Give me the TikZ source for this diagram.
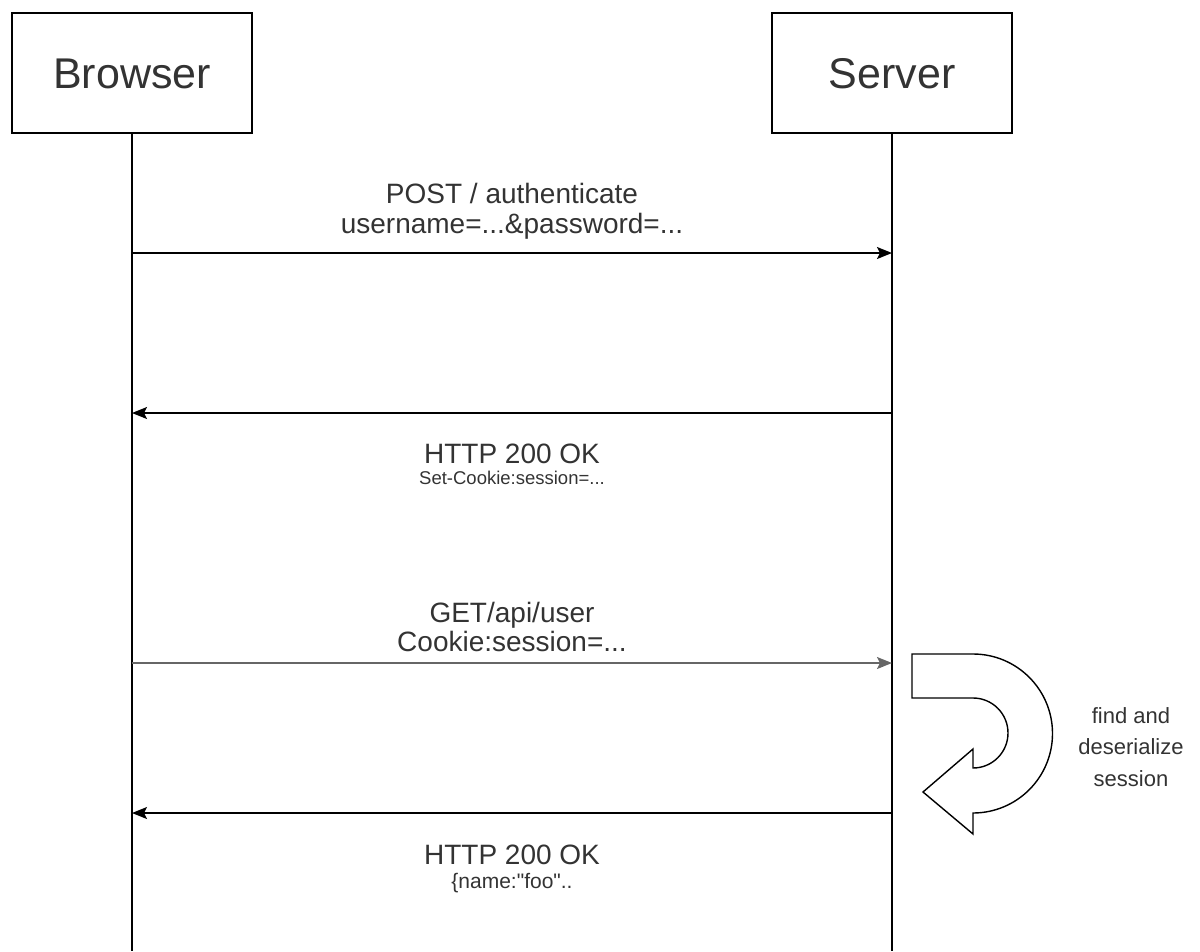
\documentclass[tikz,border=0pt]{standalone}
\usepackage{fontspec}
\setmainfont{Liberation Sans}[Ligatures=TeXOff]
\usetikzlibrary{arrows.meta}
\definecolor{txt}{HTML}{333333}
\definecolor{msggray}{HTML}{666666}
\begin{document}
\begin{tikzpicture}[x=1pt,y=-1pt,
  actor/.style={draw, line width=1.6pt, minimum width=240pt, minimum height=120pt, inner sep=0pt},
  actorname/.style={anchor=base, text=txt, font=\fontsize{43}{50}\selectfont, inner sep=0pt},
  life/.style={line width=1.6pt},
  msg/.style={line width=1.6pt, -{Stealth[length=15pt,width=12pt,inset=3pt]}},
  lbl/.style={anchor=base, text=txt, font=\fontsize{28}{32}\selectfont, inner sep=0pt},
  sublbl/.style={anchor=base, text=txt, font=\fontsize{18.5}{22}\selectfont, inner sep=0pt},
  note/.style={anchor=base, text=txt, font=\fontsize{22}{26}\selectfont, inner sep=0pt}
]
\useasboundingbox (0,0) rectangle (1200,951);

% participants
\node[actor] (browser) at (132,73) {};
\node[actor] (server)  at (892,73) {};
\node[actorname] (browsername) at (132,88) {Browser};
\node[actorname] (servername)  at (892,88) {Server};

% lifelines
\coordinate (bend) at (132,951);
\coordinate (send) at (892,951);
\draw[life] (browser.south) -- (bend);
\draw[life] (server.south) -- (send);

% message anchor points on the lifelines
\coordinate (b1) at (132,253); \coordinate (s1) at (892,253);
\coordinate (b2) at (132,413); \coordinate (s2) at (892,413);
\coordinate (b3) at (132,663); \coordinate (s3) at (892,663);
\coordinate (b4) at (132,813); \coordinate (s4) at (892,813);

% messages
\draw[msg] (b1) -- (s1);
\draw[msg] (s2) -- (b2);
\draw[msg, draw=msggray] (b3) -- (s3);
\draw[msg] (s4) -- (b4);

% message labels
\node[lbl] (m1a) at (512,203) {POST / authenticate};
\node[lbl] (m1b) at (512,233) {username=...\&password=...};
\node[lbl] (m2a) at (512,463) {HTTP 200 OK};
\node[sublbl] (m2b) at (512,484) {Set-Cookie:session=...};
\node[lbl] (m3a) at (512,622) {GET/api/user};
\node[lbl] (m3b) at (512,651) {Cookie:session=...};
\node[lbl] (m4a) at (512,864) {HTTP 200 OK};
\node[sublbl, font=\fontsize{21}{25}\selectfont] (m4b) at (512,888) {\{name:"foo"..};

% self-processing arrow on the server
\draw[line width=1.4pt, fill=white, line join=miter]
  (912,654) -- (973,654) arc[start angle=-90, end angle=90, radius=79.5]
  -- (973,834) -- (923,792) -- (973,749) -- (973,768)
  arc[start angle=90, end angle=-90, radius=35] -- (912,698) -- cycle;
\node[note] (n1) at (1131,723) {find and};
\node[note] (n2) at (1131,754) {deserialize};
\node[note] (n3) at (1131,786) {session};
\end{tikzpicture}
\end{document}
